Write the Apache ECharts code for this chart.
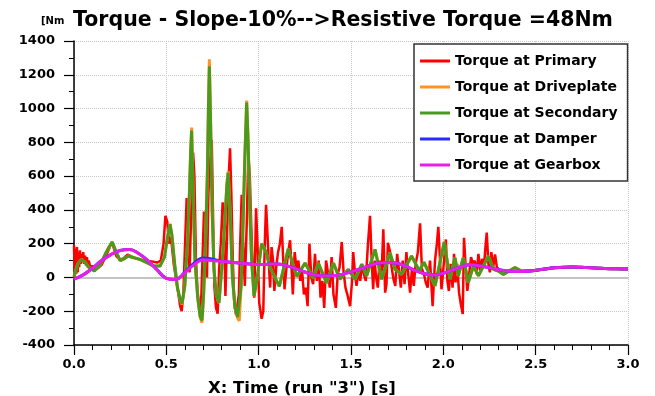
<!DOCTYPE html>
<html>
<head>
<meta charset="utf-8">
<script src="https://cdn.jsdelivr.net/npm/echarts@6/dist/echarts.min.js"></script>
<style>
  html, body { margin: 0; padding: 0; background: #fff; }
  #chart { width: 655px; height: 396px; }
</style>
</head>
<body>
<div id="chart"></div>
<script>
const titleText = "Torque - Slope-10%-->Resistive Torque =48Nm";
const unitText = "[Nm";
const xName = 'X: Time (run "3") [s]';
const seriesNames = ["Torque at Primary", "Torque at Driveplate", "Torque at Secondary", "Torque at Damper", "Torque at Gearbox"];
const yTicks = [-400, 1400, 200];
const xTicks = [0, 3, 0.5];

// primary (red) at its turning points
const timePrimary = [
  0, 0.004, 0.008, 0.012, 0.016, 0.02, 0.024, 0.028, 0.032, 0.036, 0.04, 0.045, 0.05, 0.055, 0.06, 0.065, 0.07, 0.075, 0.08, 0.09,
  0.1, 0.11, 0.13, 0.15, 0.17, 0.19, 0.205, 0.215, 0.23, 0.25, 0.27, 0.29, 0.31, 0.34, 0.38, 0.42, 0.45, 0.47, 0.485, 0.495,
  0.505, 0.515, 0.525, 0.54, 0.56, 0.575, 0.583, 0.592, 0.6, 0.61, 0.618, 0.626, 0.635, 0.645, 0.652, 0.66, 0.668, 0.675, 0.682, 0.69,
  0.697, 0.704, 0.712, 0.72, 0.728, 0.738, 0.746, 0.754, 0.76, 0.769, 0.778, 0.786, 0.795, 0.805, 0.812, 0.82, 0.83, 0.838, 0.845, 0.852,
  0.86, 0.868, 0.877, 0.885, 0.893, 0.9, 0.908, 0.916, 0.925, 0.935, 0.944, 0.952, 0.96, 0.968, 0.976, 0.986, 0.995, 1.003, 1.01, 1.016,
  1.025, 1.033, 1.04, 1.048, 1.055, 1.062, 1.07, 1.078, 1.085, 1.095, 1.105, 1.115, 1.125, 1.133, 1.14, 1.15, 1.16, 1.17, 1.178, 1.185,
  1.195, 1.205, 1.215, 1.225, 1.235, 1.245, 1.255, 1.265, 1.275, 1.285, 1.295, 1.305, 1.315, 1.325, 1.335, 1.345, 1.355, 1.365, 1.375, 1.385,
  1.395, 1.405, 1.418, 1.428, 1.438, 1.45, 1.46, 1.47, 1.48, 1.495, 1.505, 1.512, 1.522, 1.53, 1.54, 1.55, 1.56, 1.57, 1.58, 1.592,
  1.603, 1.612, 1.62, 1.628, 1.635, 1.645, 1.655, 1.665, 1.675, 1.685, 1.692, 1.7, 1.71, 1.72, 1.73, 1.74, 1.75, 1.76, 1.77, 1.78,
  1.79, 1.8, 1.81, 1.82, 1.83, 1.84, 1.85, 1.862, 1.874, 1.884, 1.895, 1.905, 1.915, 1.928, 1.942, 1.955, 1.965, 1.973, 1.982, 1.99,
  2.0, 2.014, 2.022, 2.03, 2.04, 2.05, 2.058, 2.066, 2.075, 2.085, 2.095, 2.105, 2.112, 2.12, 2.13, 2.14, 2.15, 2.16, 2.17, 2.18,
  2.19, 2.2, 2.21, 2.22, 2.228, 2.235, 2.244, 2.252, 2.26, 2.27, 2.28, 2.29, 2.3, 2.31, 2.33, 2.36, 2.4, 2.5, 2.6, 2.7,
  2.8, 2.9, 3.0
];
const primary = [
  190, -10, 170, 20, 180, 30, 150, 60, 160, 80, 140, 90, 150, 80, 130, 70, 120, 60, 100, 50,
  70, 45, 55, 75, 120, 170, 210, 175, 125, 105, 115, 135, 125, 110, 100, 95, 88, 100, 200, 365,
  330, 200, 240, 80, -60, -170, -200, -100, 150, 470, 250, 30, 400, 740, 600, 120, -60, -150, -210, -100,
  150, 390, 200, 0, 500, 700, 815, 300, -50, -180, -215, 50, 200, 445, 300, -110, 300, 600, 765, 500,
  100, -150, -220, -230, -100, 200, 490, 200, -50, 300, 730, 600, 300, 50, -120, 410, 150, -150, -200, -245,
  -200, 200, 430, 250, 80, -60, 180, 100, -80, 60, 150, 200, 300, 100, -70, 50, 150, 220, 60, -100,
  150, 50, 100, -20, 40, -100, -60, -170, 200, 0, -40, 140, -20, 100, -120, -20, -180, 100, 30, -60,
  120, -100, -180, 20, 60, 210, 30, -60, -100, -170, -30, 150, 20, -50, 40, -20, 80, 20, -20, 200,
  365, 100, -70, 100, 10, -60, 100, 0, 285, -90, -40, 205, 160, 60, -10, -50, 140, 40, -60, 100,
  -40, 150, 20, -90, 50, -50, 80, 150, 320, 50, 20, -30, -60, 100, -170, 100, 200, 300, 100, -70,
  50, 225, -20, -80, 80, -60, 140, -30, 80, -90, -160, -217, 235, 80, -80, 20, 120, 80, 100, 20,
  140, 40, 110, 60, 180, 265, 80, 30, 150, 60, 137, 60, 69, 40, 30, 40, 38, 42, 57, 62,
  57, 52, 50
];

// secondary (green) and driveplate (orange, hidden under green except at the peaks)
const timeSecondary = [
  0, 0.02, 0.04, 0.06, 0.08, 0.11, 0.14, 0.17, 0.19, 0.207, 0.225, 0.25, 0.27, 0.294, 0.32, 0.357, 0.4, 0.43, 0.466, 0.49,
  0.505, 0.52, 0.53, 0.545, 0.56, 0.575, 0.585, 0.6, 0.615, 0.625, 0.632, 0.637, 0.645, 0.655, 0.67, 0.683, 0.693, 0.702, 0.712, 0.722,
  0.728, 0.733, 0.74, 0.748, 0.758, 0.77, 0.785, 0.8, 0.815, 0.828, 0.835, 0.845, 0.858, 0.872, 0.886, 0.895, 0.905, 0.915, 0.925, 0.935,
  0.943, 0.952, 0.962, 0.975, 0.99, 1.016, 1.04, 1.061, 1.112, 1.16, 1.206, 1.251, 1.296, 1.323, 1.368, 1.405, 1.44, 1.485, 1.522, 1.558,
  1.585, 1.63, 1.666, 1.711, 1.738, 1.774, 1.828, 1.87, 1.895, 1.955, 2.005, 2.036, 2.063, 2.081, 2.108, 2.135, 2.163, 2.19, 2.244, 2.271,
  2.298, 2.325, 2.388, 2.424, 2.5, 2.6, 2.7, 2.8, 2.9, 3.0
];
const secondary = [
  5, 80, 107, 90, 60, 38, 70, 140, 180, 210, 160, 100, 110, 127, 118, 107, 85, 68, 68, 120,
  230, 315, 250, 80, -60, -130, -155, -50, 200, 500, 750, 870, 500, 100, -120, -230, -255, -100, 200, 600,
  1000, 1250, 900, 400, 50, -100, -150, 50, 300, 550, 620, 400, 0, -180, -235, -245, -50, 300, 700, 1035,
  800, 400, 100, -110, -20, 200, 150, 60, -53, 170, 6, 85, -4, 85, -33, 85, -11, 48, -11, 78,
  9, 166, -11, 146, 48, 19, 127, 40, 90, -50, 210, -10, 117, 9, 117, -30, 68, 9, 126, 48,
  38, 18, 58, 38, 42, 57, 62, 57, 52, 50
];
const driveplate = [
  5, 80, 107, 90, 60, 38, 70, 140, 180, 210, 160, 100, 110, 127, 118, 107, 85, 68, 68, 120,
  230, 318, 250, 80, -60, -132, -160, -50, 200, 505, 760, 888, 500, 100, -120, -235, -268, -100, 200, 610,
  1020, 1292, 910, 400, 50, -100, -152, 50, 300, 555, 628, 400, 0, -182, -240, -258, -50, 300, 710, 1048,
  805, 400, 100, -112, -20, 202, 150, 60, -53, 170, 6, 85, -4, 85, -33, 85, -11, 48, -11, 78,
  9, 166, -11, 146, 48, 19, 127, 40, 90, -50, 210, -10, 117, 9, 117, -30, 68, 9, 126, 48,
  38, 18, 58, 38, 42, 57, 62, 57, 52, 50
];

// damper (blue) and gearbox (magenta), smooth, every 0.05 s
const timeSmooth = [
  0, 0.05, 0.1, 0.15, 0.2, 0.25, 0.3, 0.35, 0.4, 0.45, 0.5, 0.55, 0.6, 0.65, 0.7, 0.75, 0.8, 0.85, 0.9, 0.95,
  1.0, 1.05, 1.1, 1.15, 1.2, 1.25, 1.3, 1.35, 1.4, 1.45, 1.5, 1.55, 1.6, 1.65, 1.7, 1.75, 1.8, 1.85, 1.9, 1.95,
  2.0, 2.05, 2.1, 2.15, 2.2, 2.25, 2.3, 2.35, 2.4, 2.45, 2.5, 2.55, 2.6, 2.65, 2.7, 2.75, 2.8, 2.85, 2.9, 2.95, 3.0
];
const damper = [
  -10, 15, 55, 100, 135, 160, 165, 142, 100, 45, -5, -12, 30, 85, 115, 108, 96, 90, 85, 80,
  76, 78, 80, 70, 52, 32, 16, 8, 10, 18, 33, 50, 70, 85, 88, 84, 65, 40, 22, 15,
  25, 45, 65, 75, 68, 58, 46, 38, 35, 36, 42, 50, 57, 61, 62, 60, 57, 54, 52, 51, 50
];
const gearbox = [
  -10, 15, 55, 100, 135, 160, 165, 142, 100, 45, -5, -12, 28, 75, 105, 100, 95, 90, 85, 80,
  76, 78, 80, 70, 52, 32, 16, 8, 10, 18, 33, 50, 70, 85, 88, 84, 65, 40, 22, 15,
  25, 45, 65, 75, 68, 58, 46, 38, 35, 36, 42, 50, 57, 61, 62, 60, 57, 54, 52, 51, 50
];

const COLORS = ["#ff0000", "#ff9326", "#4b9a1e", "#2a2aff", "#e61ee6"];
const FONT = "DejaVu Sans";

function pairs(times, values) {
  return values.map((v, i) => [times[i], v]);
}

const seriesData = [
  pairs(timePrimary, primary),
  pairs(timeSecondary, driveplate),
  pairs(timeSecondary, secondary),
  pairs(timeSmooth, damper),
  pairs(timeSmooth, gearbox),
];
const widths = [2.5, 3, 3, 3, 3];

const chart = echarts.init(document.getElementById("chart"));

chart.setOption({
  animation: false,
  textStyle: { fontFamily: FONT },
  title: [
    {
      text: titleText,
      left: 68,
      top: 5,
      textStyle: { fontFamily: FONT, fontSize: 20.5, fontWeight: "bold", color: "#000" },
    },
    {
      text: unitText,
      left: 36,
      top: 11,
      textStyle: { fontFamily: FONT, fontSize: 10, fontWeight: "bold", color: "#000" },
    },
    {
      text: xName,
      left: 203,
      top: 375,
      textStyle: { fontFamily: FONT, fontSize: 16.5, fontWeight: "bold", color: "#000" },
    },
  ],
  legend: {
    orient: "vertical",
    left: 414,
    top: 44,
    padding: [10, 10, 9, 6],
    itemGap: 12,
    itemWidth: 30,
    itemHeight: 14,
    icon: "path://M0,0h30v3h-30z",
    backgroundColor: "#fff",
    borderColor: "#333",
    borderWidth: 1.5,
    borderRadius: 0,
    data: seriesNames,
    textStyle: { fontFamily: FONT, fontSize: 14, fontWeight: "bold", color: "#000", lineHeight: 14 },
  },
  grid: { left: 74, right: 27, top: 41, bottom: 51 },
  xAxis: [
    {
      type: "value",
      min: xTicks[0],
      max: xTicks[1],
      interval: xTicks[2],
      axisLine: { onZero: false, lineStyle: { color: "#000", width: 1.5 } },
      axisTick: { show: true, length: 10, lineStyle: { color: "#000", width: 1.2 } },
      minorTick: { show: true, splitNumber: 5, length: 5, lineStyle: { color: "#000", width: 1 } },
      axisLabel: {
        color: "#000",
        fontSize: 13,
        fontWeight: "bold",
        margin: 13,
        formatter: (v) => v.toFixed(1),
      },
      splitLine: { show: true, lineStyle: { color: "#c8c8c8", type: "dotted", width: 1 } },
    },
    {
      type: "value",
      min: xTicks[0],
      max: xTicks[1],
      axisLine: { onZero: true, lineStyle: { color: "#c4c4c4", width: 2 } },
      axisTick: { show: false },
      axisLabel: { show: false },
      splitLine: { show: false },
    },
  ],
  yAxis: {
    type: "value",
    min: yTicks[0],
    max: yTicks[1],
    interval: yTicks[2],
    axisLine: { show: true, lineStyle: { color: "#000", width: 1.5 } },
    axisTick: { show: true, length: 10, lineStyle: { color: "#000", width: 1.2 } },
    minorTick: { show: true, splitNumber: 2, length: 5, lineStyle: { color: "#000", width: 1 } },
    axisLabel: { color: "#000", fontSize: 13, fontWeight: "bold", margin: 19, formatter: (v) => String(v) },
    splitLine: { show: true, lineStyle: { color: "#c8c8c8", type: "dotted", width: 1 } },
  },
  series: seriesNames.map((name, i) => ({
    name,
    type: "line",
    xAxisIndex: 0,
    data: seriesData[i],
    showSymbol: false,
    symbol: "none",
    smooth: i >= 3 ? 0.4 : false,
    lineStyle: { color: COLORS[i], width: widths[i] },
    itemStyle: { color: COLORS[i] },
  })),
});
</script>
</body>
</html>
